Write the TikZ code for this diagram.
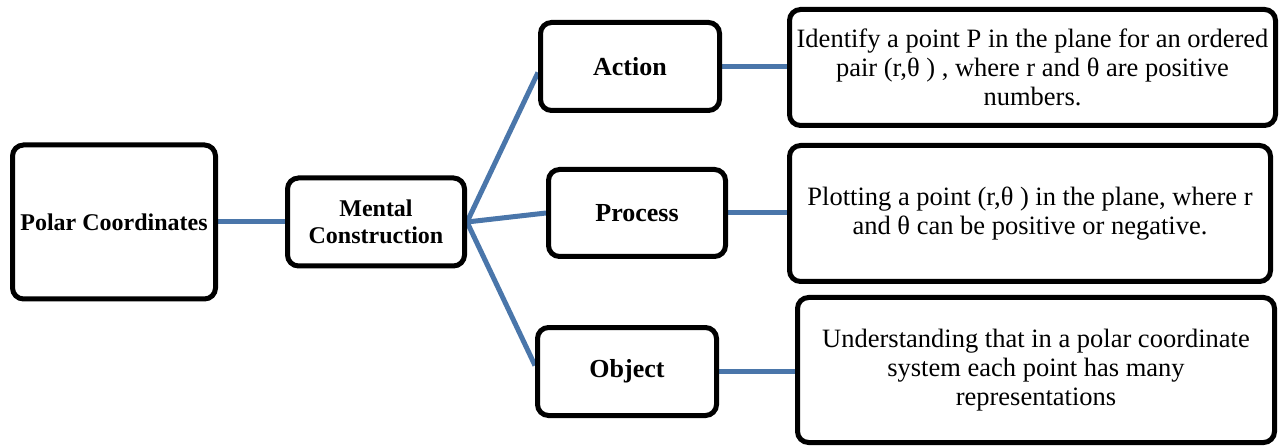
\documentclass[tikz,border=0pt]{standalone}
\usepackage{fontspec}
\setmainfont{Liberation Serif}
\usetikzlibrary{backgrounds}
\definecolor{linkblue}{RGB}{74,118,170}
\tikzset{
  box/.style={draw=black, line width=5pt, rounded corners=11pt, fill=white,
    align=center, inner sep=0pt},
  conceptbox/.style={box, font=\fontsize{24}{27}\selectfont\bfseries},
  stagebox/.style={box, font=\fontsize{26}{29}\selectfont\bfseries},
  descbox/.style={box, font=\fontsize{26.5}{29}\selectfont},
  link/.style={draw=linkblue, line width=5pt}
}
\begin{document}
\begin{tikzpicture}[x=1pt,y=-1pt]
\useasboundingbox (0,0) rectangle (1282,446);

% concept and construction
\node[conceptbox, minimum width=203pt, minimum height=154pt] (polar) at (114,222) {Polar Coordinates};
\node[conceptbox, minimum width=177pt, minimum height=88pt] (mental) at (376,222) {Mental\\Construction};

% the three stages
\node[stagebox, minimum width=179pt, minimum height=88pt] (action) at (630,66.5) {Action};
\node[stagebox, minimum width=177pt, minimum height=87pt] (process) at (637,213) {Process};
\node[stagebox, minimum width=179pt, minimum height=88pt] (object) at (627,371.5) {Object};

% descriptions
\node[descbox, minimum width=486pt, minimum height=116pt] (dact) at (1032.5,67.5)
  {Identify a point P in the plane for an ordered\\pair (r,θ ) , where r and θ are positive\\numbers.};
\node[descbox, minimum width=481pt, minimum height=136pt] (dproc) at (1030,213.5)
  {Plotting a point (r,θ ) in the plane, where r\\and θ can be positive or negative.};
\node[descbox, minimum width=477pt, minimum height=145pt] (dobj) at (1036,370)
  {Understanding that in a polar coordinate\\system each point has many\\representations};

% connectors, kept behind the boxes
\begin{scope}[on background layer]
  \coordinate (hub) at (mental.east);
  \draw[link] (polar.east) -- (mental.west);
  \draw[link] (hub) -- ([yshift=-6pt]action.west);
  \draw[link] (hub) -- (process.west);
  \draw[link] (hub) -- ([yshift=6pt]object.west);
  \draw[link] (action.east) -- (dact.west |- action.east);
  \draw[link] (process.east) -- (dproc.west |- process.east);
  \draw[link] (object.east) -- (dobj.west |- object.east);
\end{scope}
\end{tikzpicture}
\end{document}
